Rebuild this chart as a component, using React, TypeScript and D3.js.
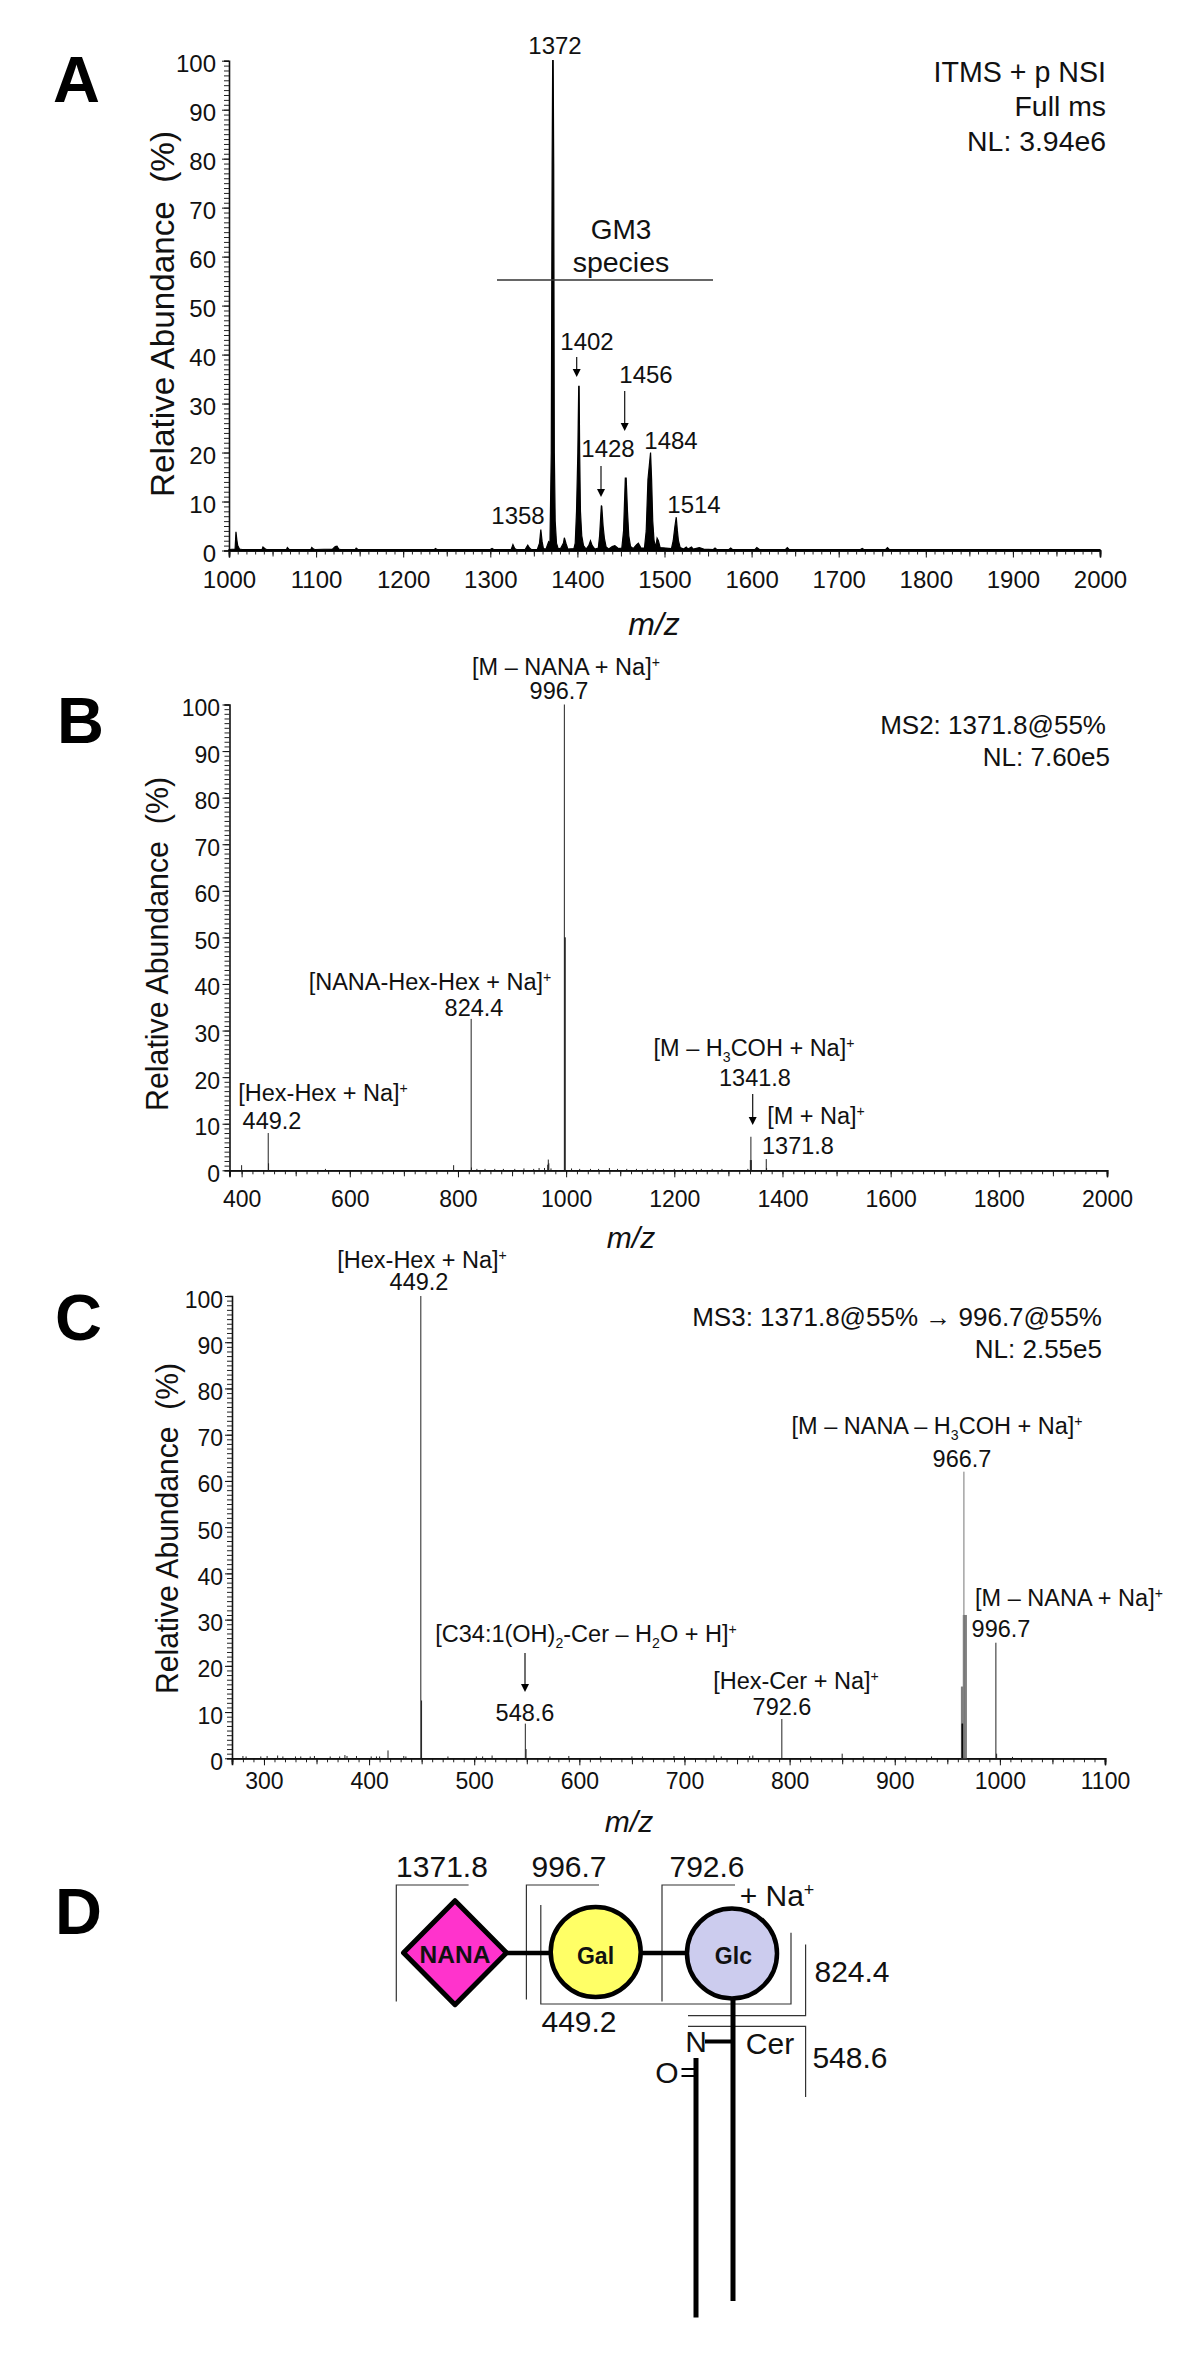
import React, { useEffect, useRef } from 'react';
import * as d3 from 'd3';

const FONT = '"Liberation Sans", Arial, sans-serif';

// Panel A: profile spectrum (m/z, relative abundance)
const mzA = [
  1000, 1007, 1008, 1009, 1010, 1012, 1015, 1038, 1039, 1041, 1043, 1066, 1067, 1069, 1094, 1095, 1097, 1099,
  1119, 1122, 1124, 1126, 1128, 1145, 1146, 1148, 1236, 1237, 1239, 1300, 1302, 1304, 1324, 1326, 1328, 1330,
  1340, 1343, 1345, 1347, 1354, 1356.5, 1358, 1359.5, 1361, 1364, 1367, 1368.5, 1370, 1371, 1371.6, 1372.2, 1372.8,
  1373.5, 1374.5, 1376, 1378, 1381, 1384, 1385, 1387, 1389, 1396, 1397.5, 1399, 1400.5, 1401.5, 1402, 1402.6,
  1403.5, 1405, 1407, 1410, 1413, 1415, 1417, 1420, 1424, 1425.5, 1427.5, 1428, 1429.5, 1431, 1433, 1436, 1440,
  1443, 1447, 1451, 1453, 1455, 1456, 1457.5, 1459, 1461, 1464, 1468, 1470, 1473, 1477, 1479, 1481, 1484, 1485.2,
  1486.5, 1488, 1490, 1491.5, 1493, 1495, 1508, 1510, 1512, 1513.5, 1514.8, 1516, 1518, 1522, 1525, 1527, 1531,
  1533, 1540, 1545, 1556, 1558, 1560, 1574, 1576, 1578, 1604, 1606, 1609, 1639, 1641, 1643, 1725, 1727, 1729,
  1754, 1756, 1758, 2000,
];
const abundanceA = [
  0.2, 0.3, 3.8, 2.2, 1, 0.3, 0.2, 0.2, 0.7, 0.4, 0.2, 0.2, 0.6, 0.2, 0.2, 0.6, 0.3, 0.2,
  0.3, 0.8, 0.9, 0.3, 0.2, 0.2, 0.5, 0.2, 0.2, 0.4, 0.2, 0.2, 0.4, 0.2, 0.2, 1.2, 0.4, 0.2,
  0.2, 1.1, 0.5, 0.2, 0.2, 1.5, 4.3, 1.8, 0.4, 0.3, 1.8, 1.5, 20, 79, 100, 100, 79,
  20, 6, 1.5, 0.3, 0.5, 1.5, 2.6, 1.4, 0.3, 0.4, 1.5, 8, 20, 33.5, 33.5, 20,
  8, 3, 1, 0.3, 1, 2, 1, 0.3, 0.5, 3, 9.2, 9, 5, 2.5, 0.7, 0.3, 0.8,
  1, 0.4, 0.5, 4, 14.8, 14.8, 8, 3, 0.8, 0.4, 1.2, 1.5, 0.5, 0.5, 4, 14.5, 20, 14.5,
  6, 2, 0.7, 2.5, 2, 0.6, 0.4, 2, 5, 6.8, 4, 2, 0.6, 0.3, 0.7, 0.3, 0.7,
  0.3, 0.6, 0.3, 0.2, 0.5, 0.2, 0.2, 0.5, 0.2, 0.2, 0.6, 0.2, 0.2, 0.6, 0.2, 0.2, 0.4, 0.2,
  0.2, 0.6, 0.2, 0.2,
];

// Panel B: centroid sticks
const mzB = [
  400, 449.2, 449.8, 555, 792, 824.4, 825, 835, 850, 868, 884, 905, 922, 940, 950, 960, 966, 967, 968, 972,
  996.7, 997.6, 998.2, 1010, 1025, 1045, 1060, 1080, 1095, 1112, 1130, 1150, 1165, 1180, 1200, 1215, 1235,
  1250, 1270, 1288, 1336, 1340.6, 1341.6, 1342.4, 1370, 1370.6,
];
const abundanceB = [
  1.1, 8, 1.5, 0.3, 1.1, 32.5, 0.6, 0.3, 0.3, 0.3, 0.3, 0.3, 0.4, 0.3, 0.5, 0.5, 1.2, 2.3, 1.5, 0.4,
  100, 50, 50, 0.4, 0.3, 0.3, 0.3, 0.5, 0.3, 0.3, 0.3, 0.3, 0.3, 0.3, 0.3, 0.3, 0.3,
  0.3, 0.3, 0.3, 0.3, 2.2, 7.2, 2.2, 2.4, 0.5,
];

// Panel C: centroid sticks, the 966 cluster is drawn grey in the source
const mzC = [
  280, 283, 297, 303, 313, 318, 330, 335, 344, 348, 363, 372, 377, 379, 388, 402, 407, 410, 418, 433, 435,
  449.2, 449.9, 475, 502, 508, 517, 548.6, 549.3, 572, 590, 620, 650, 660, 690, 700, 728, 735, 762, 765, 792.6,
  820, 850, 870, 892, 910, 935, 996.2, 996.9, 1012,
];
const abundanceC = [
  0.5, 0.4, 0.4, 0.5, 0.6, 0.4, 0.4, 0.4, 0.4, 0.5, 0.4, 0.4, 0.7, 0.5, 0.5, 0.4, 0.4, 0.4, 1.7, 0.5, 0.4,
  100, 12.5, 0.4, 0.4, 0.4, 0.6, 7.5, 2, 0.4, 0.5, 0.4, 0.4, 0.4, 0.5, 0.4, 0.6, 0.4, 0.5, 0.6, 8.5,
  0.4, 1, 0.4, 0.4, 0.4, 0.4, 25, 1, 0.3,
];
const mzCGrey = [963.4, 964, 964.6, 965.2, 965.8, 966.4, 967, 967.6, 968.1];
const abundanceCGrey = [15.5, 15.5, 15.5, 31, 62, 31, 31, 31, 31];
const mzCDark = [964, 964.6];
const abundanceCDark = [7.5, 7.5];

const yMajor = d3.range(0, 101, 10);
const yMinor = d3.range(0, 101, 1);

type Note = [string, number, number, string?, number?];

const notesA: Note[] = [
  ['1372', 555, 54],
  ['ITMS + p NSI', 1106, 82, 'end', 28.6],
  ['Full ms', 1106, 116, 'end', 28.4],
  ['NL: 3.94e6', 1106, 151, 'end', 28.4],
  ['GM3', 621, 239, 'middle', 28],
  ['species', 621, 272, 'middle', 28.5],
  ['1402', 587, 350],
  ['1456', 646, 383],
  ['1428', 608, 457],
  ['1484', 671, 449],
  ['1514', 694, 513],
  ['1358', 518, 524],
];
const notesB: Note[] = [
  ['[M – NANA + Na]^+', 566, 675],
  ['996.7', 559, 699],
  ['MS2: 1371.8@55%', 1106, 734, 'end', 26],
  ['NL: 7.60e5', 1110, 766, 'end', 26],
  ['[NANA-Hex-Hex + Na]^+', 430, 990],
  ['824.4', 474, 1016],
  ['[Hex-Hex + Na]^+', 323, 1101],
  ['449.2', 272, 1129],
  ['[M – H_3COH + Na]^+', 754, 1056],
  ['1341.8', 755, 1086],
  ['[M + Na]^+', 816, 1124],
  ['1371.8', 798, 1154],
];
const notesC: Note[] = [
  ['[Hex-Hex + Na]^+', 422, 1268],
  ['449.2', 419, 1290],
  ['MS3: 1371.8@55% → 996.7@55%', 1102, 1326, 'end', 26],
  ['NL: 2.55e5', 1102, 1358, 'end', 26],
  ['[M – NANA – H_3COH + Na]^+', 937, 1434],
  ['966.7', 962, 1467],
  ['[M – NANA + Na]^+', 1069, 1606],
  ['996.7', 1001, 1637],
  ['[C34:1(OH)_2-Cer – H_2O + H]^+', 586, 1642],
  ['548.6', 525, 1721],
  ['[Hex-Cer + Na]^+', 796, 1689],
  ['792.6', 782, 1715],
];
const notesD: Note[] = [
  ['1371.8', 442, 1877, 'middle', 30],
  ['996.7', 569, 1877, 'middle', 30],
  ['792.6', 707, 1877, 'middle', 30],
  ['+ Na^+', 777, 1906, 'middle', 30],
  ['824.4', 852, 1982, 'middle', 30],
  ['449.2', 579, 2032, 'middle', 30],
  ['548.6', 850, 2068, 'middle', 30],
  ['Cer', 770, 2054, 'middle', 30],
  ['N', 696, 2052, 'middle', 30],
  ['O', 667, 2083, 'middle', 30],
];

// x, y from, y to
const arrows = [
  [576.7, 357, 377],
  [624.7, 391, 431],
  [601, 466, 497],
  [752.7, 1094, 1125],
  [525, 1653, 1692],
];

const brackets = [
  'M396.3,2001.4V1885H468.6',
  'M526.4,1999.4V1885H599',
  'M662,2001.4V1885H735',
  'M540.8,1905V2004H791V1932.8',
  'M688,2015.7H805.6V1944.4',
  'M688,2026.3H805.6V2097',
];

const writeText = (g: any, note: Note, defaultSize = 23.5) => {
  const [label, x, y, anchor = 'middle', size = defaultSize] = note;
  const t = g
    .append('text')
    .attr('x', x)
    .attr('y', y)
    .attr('text-anchor', anchor)
    .attr('font-family', FONT)
    .attr('font-size', size)
    .attr('fill', '#111');
  const parts = label.split(/([\^_].)/).filter(Boolean);
  let shift = 0;
  parts.forEach((part) => {
    const script = part[0] === '^' ? -0.35 * size : part[0] === '_' ? 0.25 * size : 0;
    const span = t.append('tspan').attr('dy', script - shift);
    if (script !== 0) span.attr('font-size', size * 0.6).text(part.slice(1));
    else span.text(part);
    shift = script;
  });
};

const drawAxes = (g: any, cfg: any) => {
  const { x, y, xMajor, xMid, xMinor, fontSize, xLabelY, yLabelEnd } = cfg;
  const [x0] = x.range();
  const [y0] = y.range();

  const sizeFor = (sel: any) =>
    sel.selectAll('.domain').attr('stroke', '#111').attr('stroke-width', 1.6);

  g.append('g')
    .attr('transform', `translate(${x0},0)`)
    .call(d3.axisLeft(y).tickValues(yMinor).tickSize(5).tickFormat(() => ''))
    .call(sizeFor)
    .selectAll('line')
    .attr('stroke', '#222');

  const yAxis = g
    .append('g')
    .attr('transform', `translate(${x0},0)`)
    .call(d3.axisLeft(y).tickValues(yMajor).tickSize(7));
  yAxis.select('.domain').remove();
  yAxis.selectAll('line').attr('stroke', '#111');
  yAxis
    .selectAll('text')
    .attr('x', yLabelEnd - x0)
    .attr('dy', 11)
    .attr('font-size', fontSize)
    .attr('font-family', FONT)
    .attr('fill', '#111');

  const bottom = (values: number[], size: number) =>
    g
      .append('g')
      .attr('transform', `translate(0,${y0})`)
      .call(d3.axisBottom(x).tickValues(values).tickSize(size).tickFormat(() => ''))
      .call(sizeFor)
      .selectAll('line')
      .attr('stroke', '#222');
  bottom(xMinor, 4);
  bottom(xMid, 6);

  const xAxis = g
    .append('g')
    .attr('transform', `translate(0,${y0})`)
    .call(d3.axisBottom(x).tickValues(xMajor).tickSize(7).tickFormat(d3.format('d')));
  xAxis.select('.domain').attr('stroke', '#111').attr('stroke-width', 1.6);
  xAxis.selectAll('line').attr('stroke', '#111');
  xAxis
    .selectAll('text')
    .attr('y', xLabelY - y0)
    .attr('dy', 0)
    .attr('font-size', fontSize)
    .attr('font-family', FONT)
    .attr('fill', '#111');
};

const drawSticks = (g: any, x: any, y: any, mz: number[], values: number[], color: string, width: number) => {
  g.append('g')
    .selectAll('line')
    .data(mz)
    .join('line')
    .attr('x1', (d: number) => x(d))
    .attr('x2', (d: number) => x(d))
    .attr('y1', y(0))
    .attr('y2', (_: number, i: number) => y(values[i]))
    .attr('stroke', color)
    .attr('stroke-width', width);
};

const drawFurniture = (g: any, letter: string, letterX: number, letterY: number, yTitle: number[], mzPos: number[]) => {
  g.append('text')
    .attr('x', letterX)
    .attr('y', letterY)
    .attr('font-family', FONT)
    .attr('font-weight', 'bold')
    .attr('font-size', 65)
    .attr('fill', '#000')
    .text(letter);
  if (yTitle.length) {
    const [tx, ty, len, size] = yTitle;
    g.append('text')
      .attr('transform', `translate(${tx},${ty}) rotate(-90)`)
      .attr('font-family', FONT)
      .attr('font-size', size)
      .attr('textLength', len)
      .attr('lengthAdjust', 'spacingAndGlyphs')
      .attr('xml:space', 'preserve')
      .attr('fill', '#111')
      .text('Relative Abundance  (%)');
  }
  if (mzPos.length) {
    g.append('text')
      .attr('x', mzPos[0])
      .attr('y', mzPos[1])
      .attr('text-anchor', 'middle')
      .attr('font-family', FONT)
      .attr('font-style', 'italic')
      .attr('font-size', mzPos[2])
      .attr('fill', '#111')
      .text('m/z');
  }
};

export default function App() {
  const ref = useRef<SVGSVGElement | null>(null);

  useEffect(() => {
    const svg = d3.select(ref.current);
    svg.selectAll('*').remove();
    const g = svg.append('g');

    // A
    const xA = d3.scaleLinear().domain([1000, 2000]).range([229, 1100]);
    const yA = d3.scaleLinear().domain([0, 100]).range([550.5, 60.7]);
    drawAxes(g, {
      x: xA,
      y: yA,
      xMajor: d3.range(1000, 2001, 100),
      xMid: d3.range(1050, 2000, 100),
      xMinor: d3.range(1000, 2001, 10),
      fontSize: 24,
      xLabelY: 588,
      yLabelEnd: 216,
    });
    const areaA = d3
      .area<number>()
      .x((d) => xA(d))
      .y0(yA(0))
      .y1((_, i) => yA(abundanceA[i]));
    g.append('path').attr('d', areaA(mzA)).attr('fill', '#000').attr('stroke', '#000').attr('stroke-width', 1.2);
    g.append('line').attr('x1', 497).attr('x2', 713).attr('y1', 280).attr('y2', 280).attr('stroke', '#333').attr('stroke-width', 1.4);
    notesA.forEach((n) => writeText(g, n, 24));
    drawFurniture(g, 'A', 53, 102, [174, 497, 366, 34], [654, 635, 32]);

    // B
    const xB = d3.scaleLinear().domain([377.6, 2000]).range([229.5, 1107]);
    const yB = d3.scaleLinear().domain([0, 100]).range([1170.3, 704.5]);
    drawAxes(g, {
      x: xB,
      y: yB,
      xMajor: d3.range(400, 2001, 200),
      xMid: d3.range(500, 2000, 200),
      xMinor: d3.range(400, 2001, 20),
      fontSize: 23,
      xLabelY: 1207,
      yLabelEnd: 220,
    });
    drawSticks(g, xB, yB, mzB, abundanceB, '#222', 1);
    notesB.forEach((n) => writeText(g, n));
    drawFurniture(g, 'B', 57, 743, [168, 1111, 334, 32], [631, 1248, 30]);

    // C
    const xC = d3.scaleLinear().domain([269.6, 1100]).range([232, 1105]);
    const yC = d3.scaleLinear().domain([0, 100]).range([1758.3, 1296]);
    drawAxes(g, {
      x: xC,
      y: yC,
      xMajor: d3.range(300, 1101, 100),
      xMid: d3.range(350, 1100, 100),
      xMinor: d3.range(280, 1101, 10),
      fontSize: 23,
      xLabelY: 1789,
      yLabelEnd: 223,
    });
    drawSticks(g, xC, yC, mzC, abundanceC, '#222', 1);
    drawSticks(g, xC, yC, mzCGrey, abundanceCGrey, '#777', 1);
    drawSticks(g, xC, yC, mzCDark, abundanceCDark, '#000', 1);
    notesC.forEach((n) => writeText(g, n));
    drawFurniture(g, 'C', 55, 1340, [178, 1694, 331, 32], [629, 1832, 30]);

    arrows.forEach(([x, y1, y2]) => {
      g.append('line').attr('x1', x).attr('x2', x).attr('y1', y1).attr('y2', y2 - 6).attr('stroke', '#111').attr('stroke-width', 1.2);
      g.append('path').attr('d', `M${x - 4},${y2 - 8}H${x + 4}L${x},${y2}Z`).attr('fill', '#000');
    });

    // D: the glycan scheme
    drawFurniture(g, 'D', 55, 1934, [], []);
    brackets.forEach((d) => {
      g.append('path').attr('d', d).attr('fill', 'none').attr('stroke', '#333').attr('stroke-width', 1.2);
    });
    const thick = (x1: number, y1: number, x2: number, y2: number, w: number) =>
      g.append('line').attr('x1', x1).attr('y1', y1).attr('x2', x2).attr('y2', y2).attr('stroke', '#000').attr('stroke-width', w);
    thick(505, 1953, 550, 1953, 4.5);
    thick(640, 1953, 688, 1953, 4.5);
    thick(733, 1995, 733, 2301, 5);
    thick(696, 2058, 696, 2317.5, 5);
    thick(705, 2041.5, 733, 2041.5, 4);
    thick(681.5, 2069, 694, 2069, 2);
    thick(681.5, 2076, 694, 2076, 2);
    g.append('path')
      .attr('d', 'M455,1900.7L506.5,1952.7L455,2004.7L403.5,1952.7Z')
      .attr('fill', '#ff33cc')
      .attr('stroke', '#000')
      .attr('stroke-width', 5)
      .attr('stroke-linejoin', 'round');
    g.append('circle').attr('cx', 595.7).attr('cy', 1952).attr('r', 45).attr('fill', '#ffff66').attr('stroke', '#000').attr('stroke-width', 4.5);
    g.append('circle').attr('cx', 732).attr('cy', 1953.4).attr('r', 45).attr('fill', '#ccccee').attr('stroke', '#000').attr('stroke-width', 4.5);
    [['NANA', 455, 1963, 24.5], ['Gal', 595.5, 1964, 23], ['Glc', 733.4, 1964, 23]].forEach(([label, x, y, size]) => {
      g.append('text')
        .attr('x', x)
        .attr('y', y)
        .attr('text-anchor', 'middle')
        .attr('font-family', FONT)
        .attr('font-weight', 'bold')
        .attr('font-size', size)
        .attr('fill', '#111')
        .text(label as string);
    });
    notesD.forEach((n) => writeText(g, n));
  }, []);

  return (
    <svg
      ref={ref}
      width={1200}
      height={2374}
      style={{ position: 'absolute', left: 0, top: 0, display: 'block', background: '#fff' }}
    />
  );
}
